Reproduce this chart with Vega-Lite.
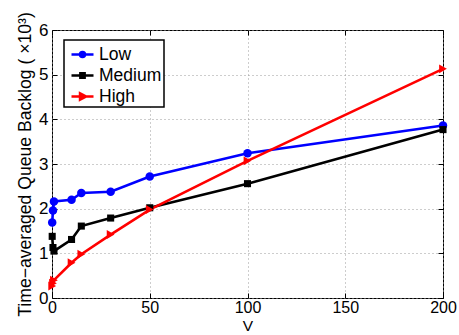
{
  "$schema": "https://vega.github.io/schema/vega-lite/v6.json",
  "width": 391,
  "height": 268,
  "autosize": "none",
  "padding": {"left": 52, "top": 30, "right": 16, "bottom": 37},
  "background": "white",
  "config": {
    "font": "Liberation Sans",
    "view": {"stroke": "black", "strokeWidth": 1},
    "axis": {
      "labelFont": "Liberation Sans",
      "titleFont": "Liberation Sans",
      "labelFontSize": 17,
      "titleFontSize": 17,
      "titleFontWeight": "normal",
      "labelColor": "black",
      "titleColor": "black",
      "domainColor": "black",
      "tickColor": "black",
      "labelFlush": false,
      "gridColor": "#9a9a9a",
      "gridDash": [1, 3],
      "gridWidth": 1
    }
  },
  "data": {
    "values": [
      {"series": "Low", "V": 0.1, "backlog": 1.69},
      {"series": "Low", "V": 0.5, "backlog": 1.96},
      {"series": "Low", "V": 1, "backlog": 2.16},
      {"series": "Low", "V": 10, "backlog": 2.2},
      {"series": "Low", "V": 15, "backlog": 2.35},
      {"series": "Low", "V": 30, "backlog": 2.38},
      {"series": "Low", "V": 50, "backlog": 2.72},
      {"series": "Low", "V": 100, "backlog": 3.24},
      {"series": "Low", "V": 200, "backlog": 3.86},
      {"series": "Medium", "V": 0.1, "backlog": 1.38},
      {"series": "Medium", "V": 0.5, "backlog": 1.13},
      {"series": "Medium", "V": 1, "backlog": 1.05},
      {"series": "Medium", "V": 10, "backlog": 1.31},
      {"series": "Medium", "V": 15, "backlog": 1.61},
      {"series": "Medium", "V": 30, "backlog": 1.79},
      {"series": "Medium", "V": 50, "backlog": 2.02},
      {"series": "Medium", "V": 100, "backlog": 2.56},
      {"series": "Medium", "V": 200, "backlog": 3.77},
      {"series": "High", "V": 0.1, "backlog": 0.27},
      {"series": "High", "V": 0.5, "backlog": 0.33},
      {"series": "High", "V": 1, "backlog": 0.4},
      {"series": "High", "V": 10, "backlog": 0.79},
      {"series": "High", "V": 15, "backlog": 0.98},
      {"series": "High", "V": 30, "backlog": 1.42},
      {"series": "High", "V": 50, "backlog": 1.98},
      {"series": "High", "V": 100, "backlog": 3.07},
      {"series": "High", "V": 200, "backlog": 5.13}
    ]
  },
  "resolve": {"axis": {"x": "independent", "y": "independent"}},
  "layer": [
    {
      "mark": {"type": "line", "strokeWidth": 2.6, "clip": false},
      "encoding": {
        "x": {
          "field": "V", "type": "quantitative",
          "scale": {"domain": [0, 200], "nice": false},
          "axis": {"orient": "bottom", "values": [0, 50, 100, 150, 200], "title": "V", "titleFontSize": 15.5, "labelFontSize": 16, "ticks": false, "domain": false, "labelPadding": 1, "titlePadding": 3, "grid": true}
        },
        "y": {
          "field": "backlog", "type": "quantitative",
          "scale": {"domain": [0, 6], "nice": false},
          "axis": {"orient": "left", "values": [0, 1, 2, 3, 4, 5, 6], "title": "Time−averaged Queue Backlog ( ×10³)", "titleFontSize": 17.6, "ticks": false, "domain": false, "labelPadding": 4, "titlePadding": 4, "grid": true}
        },
        "color": {
          "field": "series", "type": "nominal",
          "scale": {"domain": ["Low", "Medium", "High"], "range": ["#0000ff", "#000000", "#ff0000"]},
          "legend": {
            "title": null,
            "orient": "none",
            "legendX": 12,
            "legendY": 10,
            "strokeColor": "black",
            "fillColor": "white",
            "padding": 2,
            "labelFontSize": 17.5,
            "labelFont": "Liberation Sans",
            "labelColor": "black",
            "labelOffset": 4,
            "symbolOffset": 4,
            "rowPadding": 0,
            "symbolSize": 484,
            "symbolStrokeWidth": 2.6,
            "encode": {
              "legend": {"update": {"strokeWidth": {"value": 1.5}}},
              "symbols": {
                "update": {
                  "shape": {"signal": "datum.value === 'Low' ? 'M-1,0L1,0M0.22,0A0.22,0.22 0 1,1 -0.22,0A0.22,0.22 0 1,1 0.22,0Z' : datum.value === 'Medium' ? 'M-1,0L1,0M-0.19,-0.19L0.19,-0.19L0.19,0.19L-0.19,0.19Z' : 'M-1,0L1,0M-0.22,-0.28L0.32,0L-0.22,0.28Z'"},
                  "fill": {"signal": "scale('color', datum.value)"},
                  "stroke": {"signal": "scale('color', datum.value)"},
                  "fillOpacity": {"value": 1},
                  "strokeWidth": {"value": 2.6}
                }
              }
            }
          }
        }
      }
    },
    {
      "transform": [{"filter": "datum.series === 'Low'"}],
      "mark": {"type": "point", "shape": "circle", "filled": true, "opacity": 1, "size": 72, "clip": false},
      "encoding": {
        "x": {
          "field": "V", "type": "quantitative",
          "axis": {"orient": "top", "offset": -5, "values": [0, 50, 100, 150, 200], "labels": false, "title": null, "tickSize": 5, "grid": false, "domain": false}
        },
        "y": {
          "field": "backlog", "type": "quantitative",
          "axis": {"orient": "right", "offset": -5, "values": [0, 1, 2, 3, 4, 5, 6], "labels": false, "title": null, "tickSize": 5, "grid": false, "domain": false}
        },
        "color": {"field": "series", "type": "nominal", "legend": null}
      }
    },
    {
      "transform": [{"filter": "datum.series === 'Medium'"}],
      "mark": {"type": "point", "shape": "square", "filled": true, "opacity": 1, "size": 50, "clip": false},
      "encoding": {
        "x": {
          "field": "V", "type": "quantitative",
          "axis": {"orient": "bottom", "offset": -5, "values": [0, 50, 100, 150, 200], "labels": false, "title": null, "tickSize": 5, "grid": false, "domain": false}
        },
        "y": {
          "field": "backlog", "type": "quantitative",
          "axis": {"orient": "left", "offset": -5, "values": [0, 1, 2, 3, 4, 5, 6], "labels": false, "title": null, "tickSize": 5, "grid": false, "domain": false}
        },
        "color": {"field": "series", "type": "nominal", "legend": null}
      }
    },
    {
      "transform": [{"filter": "datum.series === 'High'"}],
      "mark": {"type": "point", "shape": "triangle-right", "filled": true, "opacity": 1, "size": 80, "clip": false},
      "encoding": {
        "x": {"field": "V", "type": "quantitative", "axis": null},
        "y": {"field": "backlog", "type": "quantitative", "axis": null},
        "color": {"field": "series", "type": "nominal", "legend": null}
      }
    }
  ]
}
